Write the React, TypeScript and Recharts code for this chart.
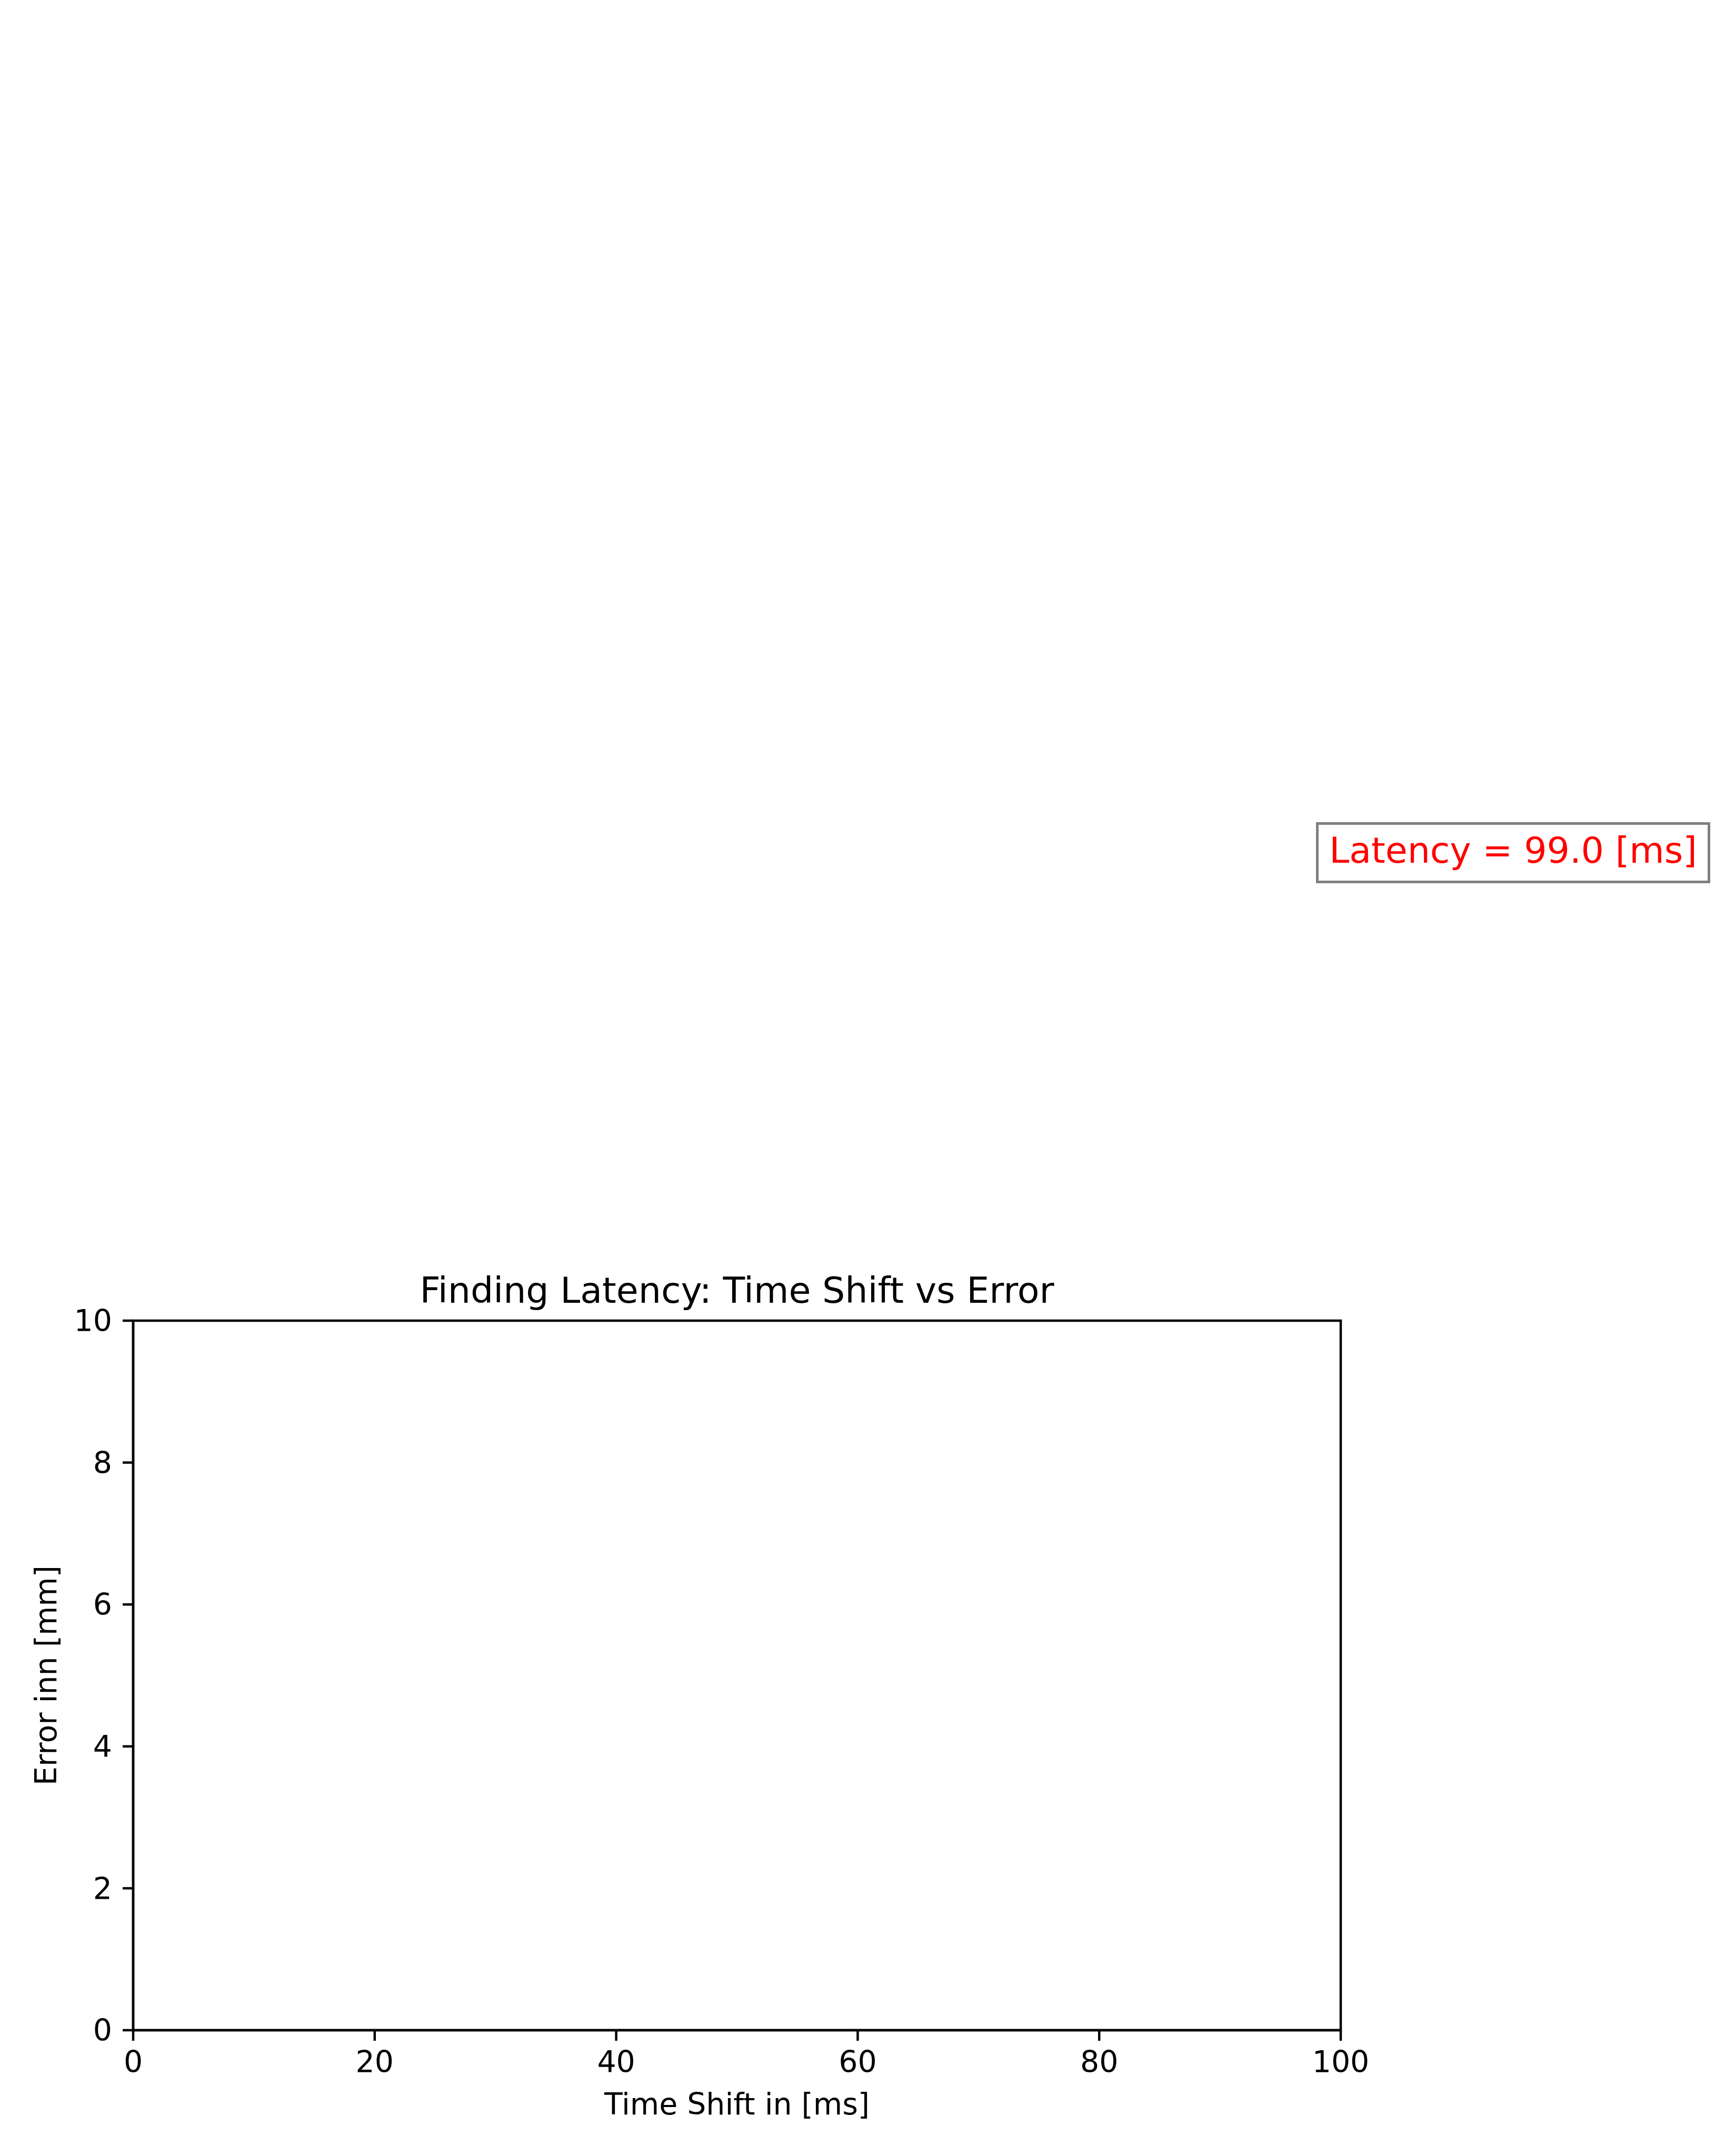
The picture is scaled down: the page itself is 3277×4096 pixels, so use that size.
import { CartesianGrid, Customized, Line, LineChart, ReferenceArea, XAxis, YAxis } from "recharts"

// chart values
const timeShifts: number[] = []
const errors: number[] = []
const xTicks = [0, 20, 40, 60, 80, 100]
const yTicks = [0, 2, 4, 6, 8, 10]
const xDomain = [0, 100]
const yDomain = [0, 10]
const title = "Finding Latency: Time Shift vs Error"
const xLabel = "Time Shift in [ms]"
const yLabel = "Error inn [mm]"
const latencyText = "Latency = 99.0 [ms]"

const W = 3277
const H = 4096
const font = "DejaVu Sans"

const rows = timeShifts.map((t, i) => ({ shift: t, error: errors[i] }))

const Overlay = () => {
  return (
    <g fontFamily={font}>
      <text x={1400} y={2475} textAnchor="middle" fontSize={68.2} fill="#000">
        {title}
      </text>
      <text x={1400} y={4017} textAnchor="middle" fontSize={56.9} fill="#000">
        {xLabel}
      </text>
      <text
        x={107}
        y={3183}
        textAnchor="middle"
        fontSize={56.9}
        fill="#000"
        transform="rotate(-90 107 3183)"
      >
        {yLabel}
      </text>
      <rect x={2502.5} y={1564.5} width={744} height={111} fill="#fff" stroke="#808080" strokeWidth={5} />
      <text x={2874.5} y={1639} textAnchor="middle" fontSize={68.2} fill="#ff0000">
        {latencyText}
      </text>
    </g>
  )
}

const App = () => {
  const tick = { fill: "#000", fontSize: 56.9, fontFamily: font }
  const line = { stroke: "#000", strokeWidth: 4.5 }
  return (
    <div style={{ position: "absolute", left: 0, top: 0, width: W, height: H, background: "#fff" }}>
      <LineChart
        width={W}
        height={H}
        data={rows}
        margin={{ top: 2509, right: 730, bottom: 89, left: 53 }}
      >
        <CartesianGrid stroke="none" />
        <XAxis
          type="number"
          dataKey="shift"
          domain={xDomain}
          ticks={xTicks}
          height={150}
          tick={tick}
          tickSize={20}
          tickMargin={20}
          tickLine={line}
          axisLine={line}
          allowDataOverflow
        />
        <YAxis
          type="number"
          domain={yDomain}
          ticks={yTicks}
          width={200}
          tick={tick}
          tickSize={20}
          tickMargin={20}
          tickLine={line}
          axisLine={line}
          allowDataOverflow
        />
        <ReferenceArea x1={0} x2={100} y1={0} y2={10} fill="none" stroke="#000" strokeWidth={4.5} />
        <Line dataKey="error" stroke="#1f77b4" dot={false} isAnimationActive={false} />
        <Customized component={Overlay} />
      </LineChart>
    </div>
  )
}

export default App
